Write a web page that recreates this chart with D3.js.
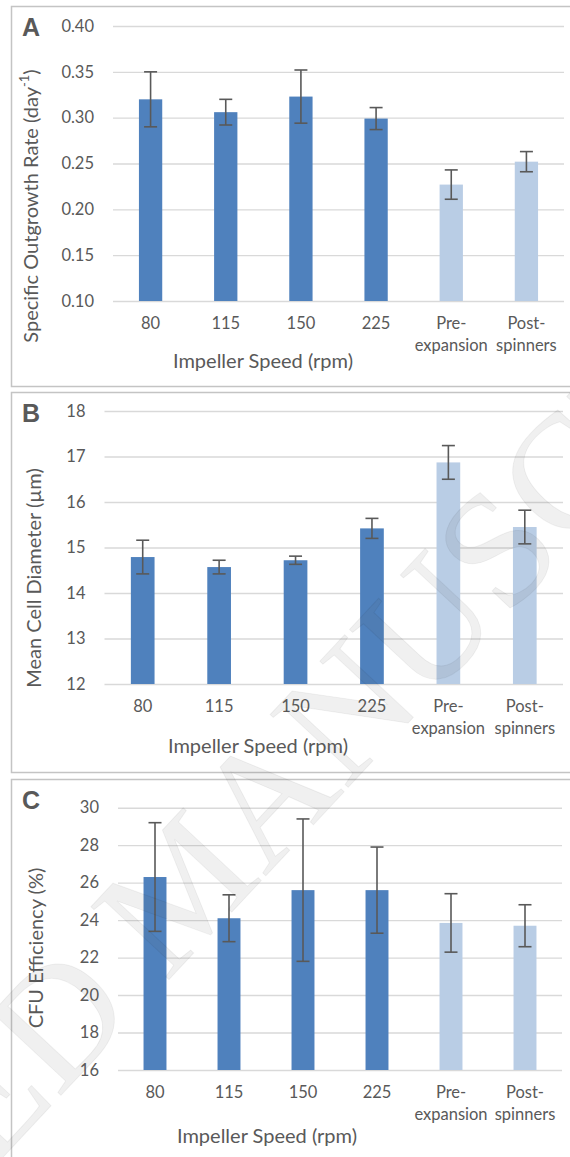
<!DOCTYPE html>
<html>
<head>
<meta charset="utf-8">
<script src="https://cdn.jsdelivr.net/npm/d3@7"></script>
<style>
  body { margin: 0; background: #fff; }
  svg { display: block; }
  text { font-family: Lato, "Open Sans", sans-serif; fill: #595959; }
</style>
</head>
<body>
<script>
// categories on the x axis (two-line labels for the controls)
const categories = ["80", "115", "150", "225", "Pre-expansion", "Post-spinners"];
const categoryLines = [["80"], ["115"], ["150"], ["225"], ["Pre-", "expansion"], ["Post-", "spinners"]];
const barGroup = ["speed", "speed", "speed", "speed", "control", "control"];

// panel A - specific outgrowth rate (day-1)
const growthRate = [0.320, 0.306, 0.323, 0.299, 0.227, 0.252];
const growthErr  = [0.030, 0.014, 0.029, 0.012, 0.016, 0.011];
const growthTicks = [0.10, 0.15, 0.20, 0.25, 0.30, 0.35, 0.40];

// panel B - mean cell diameter (um)
const cellDiameter = [14.79, 14.57, 14.72, 15.42, 16.87, 15.45];
const diameterErr  = [0.37, 0.15, 0.09, 0.22, 0.37, 0.37];
const diameterTicks = [12, 13, 14, 15, 16, 17, 18];

// panel C - CFU efficiency (%)
const cfuEfficiency = [26.3, 24.1, 25.6, 25.6, 23.85, 23.7];
const cfuErr        = [2.9, 1.25, 3.8, 2.3, 1.56, 1.12];
const cfuTicks = [16, 18, 20, 22, 24, 26, 28, 30];

const xTitle = "Impeller Speed (rpm)";

const width = 570, height = 1157;
const colors = { speed: "#4f81bd", control: "#b9cde5" };

const svg = d3.select("body").append("svg").attr("width", width).attr("height", height);

const panels = [
  { letter: "A", values: growthRate, errs: growthErr, ticks: growthTicks, fmt: d3.format(".2f"),
    frame: [11.5, 6.5, 380], plot: { left: 113, right: 564, top: 26, bottom: 301 },
    yTitle: ["Specific Outgrowth Rate (day", "-1", ")"], yTitleX: 33, yTitleY: 206, xTitleX: 263, xTitleDy: 62 },
  { letter: "B", values: cellDiameter, errs: diameterErr, ticks: diameterTicks, fmt: d3.format("d"),
    frame: [11.5, 392.5, 380], plot: { left: 104.5, right: 563, top: 411, bottom: 684 },
    yTitle: ["Mean Cell Diameter (\u00b5m)"], yTitleX: 36, yTitleY: 578, xTitleX: 258, xTitleDy: 64 },
  { letter: "C", values: cfuEfficiency, errs: cfuErr, ticks: cfuTicks, fmt: d3.format("d"),
    frame: [11.5, 779.5, 400], plot: { left: 118, right: 562, top: 807.7, bottom: 1070 },
    yTitle: ["CFU Efficiency (%)"], yTitleX: 37.5, yTitleY: 948, xTitleX: 267, xTitleDy: 68 }
];

panels.forEach(p => {
  const g = svg.append("g");
  const [fx, fy, fh] = p.frame;

  g.append("rect").attr("x", fx).attr("y", fy).attr("width", width + 20).attr("height", fh)
    .attr("fill", "none").attr("stroke", "#c4c4c4").attr("stroke-width", 1.5);

  const x = d3.scaleBand().domain(categories).range([p.plot.left, p.plot.right])
    .paddingInner(0.69).paddingOuter(0.345);
  const y = d3.scaleLinear().domain(d3.extent(p.ticks)).range([p.plot.bottom, p.plot.top]);

  // y axis with gridlines
  const yAxis = g.append("g").attr("transform", `translate(${p.plot.left},0)`)
    .call(d3.axisLeft(y).tickValues(p.ticks).tickFormat(p.fmt)
      .tickSize(-(p.plot.right - p.plot.left)).tickPadding(19));
  yAxis.select(".domain").remove();
  yAxis.selectAll(".tick line").attr("stroke", "#d9d9d9").attr("stroke-width", 1.4);
  yAxis.selectAll(".tick text").style("font-size", "16.5px").attr("fill", "#595959")
    .style("font-family", "Lato, sans-serif");

  // bars
  g.selectAll(".bar").data(categories).enter().append("rect")
    .attr("x", d => x(d)).attr("width", x.bandwidth())
    .attr("y", (d, i) => y(p.values[i]))
    .attr("height", (d, i) => y(y.domain()[0]) - y(p.values[i]))
    .attr("fill", (d, i) => colors[barGroup[i]]);

  // error bars
  const cap = 6.5;
  const eb = g.selectAll(".err").data(categories).enter().append("g")
    .attr("stroke", "#595959").attr("stroke-width", 1.6);
  eb.append("line")
    .attr("x1", d => x(d) + x.bandwidth() / 2).attr("x2", d => x(d) + x.bandwidth() / 2)
    .attr("y1", (d, i) => y(p.values[i] + p.errs[i])).attr("y2", (d, i) => y(p.values[i] - p.errs[i]));
  [1, -1].forEach(s => {
    eb.append("line")
      .attr("x1", d => x(d) + x.bandwidth() / 2 - cap).attr("x2", d => x(d) + x.bandwidth() / 2 + cap)
      .attr("y1", (d, i) => y(p.values[i] + s * p.errs[i])).attr("y2", (d, i) => y(p.values[i] + s * p.errs[i]));
  });

  // x axis labels
  const xAxis = g.append("g").attr("transform", `translate(0,${p.plot.bottom})`)
    .call(d3.axisBottom(x).tickSize(0).tickFormat(""));
  xAxis.select(".domain").remove();
  xAxis.selectAll(".tick text").each(function (d, i) {
    const t = d3.select(this).attr("y", 0).attr("dy", null)
      .style("font-size", "16.5px").attr("fill", "#595959").style("font-family", "Lato, sans-serif");
    categoryLines[i].forEach((line, k) => {
      t.append("tspan").attr("x", 0).attr("y", 24 + k * 22).attr("dominant-baseline", "middle").text(line);
    });
  });

  // axis titles
  g.append("text").attr("x", p.xTitleX).attr("y", p.plot.bottom + p.xTitleDy)
    .attr("text-anchor", "middle").attr("dominant-baseline", "middle")
    .style("font-size", "20px").text(xTitle);

  const yt = g.append("text")
    .attr("transform", `translate(${p.yTitleX},${p.yTitleY}) rotate(-90)`)
    .attr("text-anchor", "middle").attr("dominant-baseline", "middle")
    .style("font-size", "20px");
  yt.append("tspan").text(p.yTitle[0]);
  if (p.yTitle.length > 1) {
    yt.append("tspan").attr("dy", -7).style("font-size", "13px").text(p.yTitle[1]);
    yt.append("tspan").attr("dy", 7).text(p.yTitle[2]);
  }

  // panel letter
  g.append("text").attr("x", 22).attr("y", fy + 29)
    .style("font-family", "'Liberation Sans', Arial, sans-serif").style("font-weight", "bold")
    .style("font-size", "25px").attr("fill", "#000").text(p.letter);
});

// diagonal manuscript watermark
svg.append("g").attr("transform", "translate(24,1135) rotate(-47)")
  .append("text").attr("x", -675).attr("y", 0)
  .style("font-family", "'Liberation Serif', 'Times New Roman', serif")
  .style("font-size", "163px").attr("fill", "#000").attr("fill-opacity", 0.09)
  .attr("stroke", "#000").attr("stroke-opacity", 0.05).attr("stroke-width", 1)
  .text("ACCEPTED MANUSCRIPT");
</script>
</body>
</html>
